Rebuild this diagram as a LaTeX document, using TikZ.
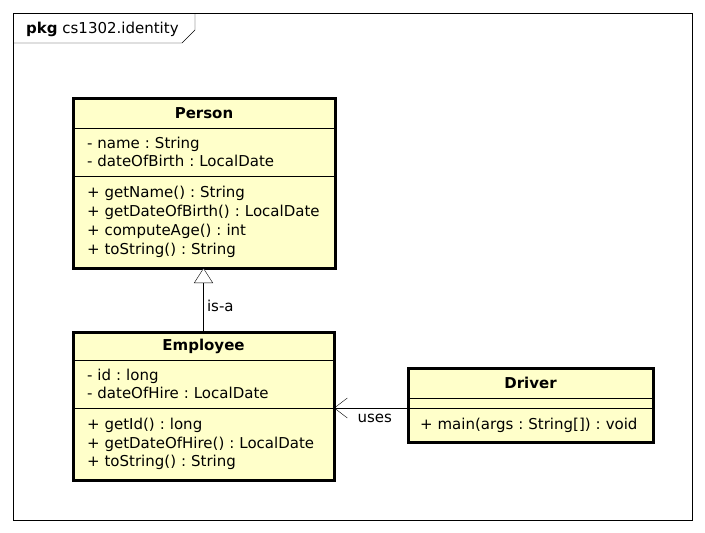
\documentclass[tikz,border=0pt]{standalone}
\usepackage{fontspec}
\setmainfont{DejaVu Sans}
\usetikzlibrary{arrows.meta,positioning}
\definecolor{umlyellow}{RGB}{255,255,202}

\begin{document}
\frenchspacing
\begin{tikzpicture}[
    x=1pt, y=-1pt,
    font=\fontsize{15}{18.8}\selectfont,
    classname/.style={rectangle, draw, fill=umlyellow, minimum height=30pt, inner sep=0pt, outer sep=0pt, font=\fontsize{15}{18.8}\selectfont\bfseries, anchor=north west},
    compart/.style={rectangle, draw, fill=umlyellow, align=left, inner xsep=14pt, inner ysep=0pt, outer sep=0pt},
    border/.style={line width=3pt},
    isa/.style={-{Triangle[open, length=15pt, width=19pt, fill=white]}},
    uses/.style={-{Straight Barb[length=13pt, width=20pt]}}
]
\useasboundingbox (0,0) rectangle (705,533);

% package frame
\draw (13,13) rectangle (692,520);
\node[anchor=west, inner sep=0pt] (pkg) at (26,29) {\textbf{pkg} cs1302.identity};
\draw (13,43) -- (182,43) -- (195,30) -- (195,13);

% Person
\node[classname, minimum width=262pt] (ptitle) at (73,98) {Person};
\node[compart, below=0pt of ptitle, minimum height=48pt, text width=234pt] (pattr) {- name : String\\- dateOfBirth : LocalDate};
\node[compart, below=0pt of pattr, minimum height=92pt, text width=234pt] (pops) {+ getName() : String\\+ getDateOfBirth() : LocalDate\\+ computeAge() : int\\+ toString() : String};
\draw[border] (ptitle.north west) rectangle (pops.south east);

% Employee
\node[classname, minimum width=261pt, minimum height=28pt] (etitle) at (73,332) {Employee};
\node[compart, below=0pt of etitle, minimum height=48pt, text width=233pt] (eattr) {- id : long\\- dateOfHire : LocalDate};
\node[compart, below=0pt of eattr, minimum height=72pt, text width=233pt] (eops) {+ getId() : long\\+ getDateOfHire() : LocalDate\\+ toString() : String};
\draw[border] (etitle.north west) rectangle (eops.south east);

% Driver
\node[classname, minimum width=245pt] (dtitle) at (408,368) {Driver};
\node[compart, below=0pt of dtitle, minimum height=10pt, inner xsep=12pt, text width=221pt] (dattr) {};
\node[compart, below=0pt of dattr, minimum height=34pt, inner xsep=12pt, text width=221pt] (dops) {+ main(args : String[]) : void};
\draw[border] (dtitle.north west) rectangle (dops.south east);

\draw[isa] (etitle.north) -- node[right, pos=0.4] {is-a} (etitle.north |- pops.south);
\draw[uses] (dops.north west) -- node[below=3pt, pos=0.45] {uses} (dops.north west -| eops.east);
\end{tikzpicture}
\end{document}
